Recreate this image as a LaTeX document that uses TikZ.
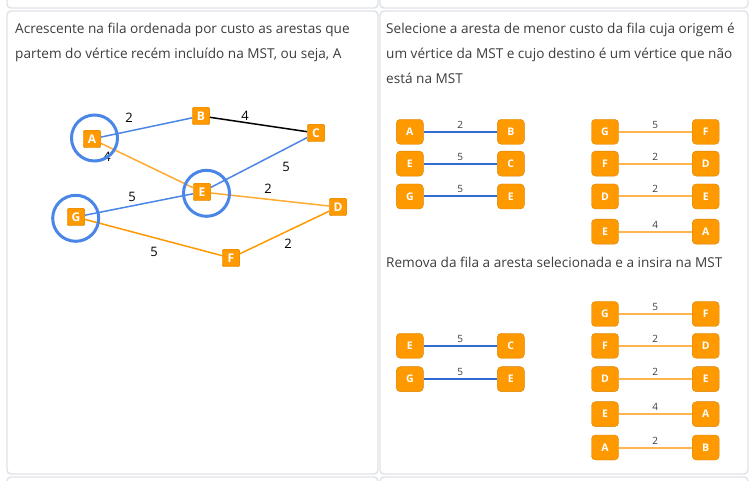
\documentclass[tikz,border=0pt]{standalone}
\usepackage{fontspec}
\setmainfont{Open Sans}

\definecolor{mstblue}{HTML}{4A86E8}
\definecolor{queueblue}{HTML}{2F6BD0}
\definecolor{vorange}{HTML}{FF9900}
\definecolor{edgeorange}{HTML}{FFAA33}
\definecolor{queueorange}{HTML}{FFB54D}
\definecolor{cellgray}{HTML}{DEE2E6}
\definecolor{textgray}{HTML}{3C3C3C}

\newcommand\crad{23}

\tikzset{
  cell/.style={draw=cellgray, line width=1.4pt, rounded corners=4pt},
  ptext/.style={anchor=north west, align=left, inner sep=0pt, text=textgray,
    font=\fontsize{13.6}{24.7}\selectfont},
  vbox/.style={draw=vorange!85!black, line width=0.4pt, fill=vorange, rounded corners=2pt,
    minimum size=17.5, inner sep=0pt, text=white, font=\bfseries\fontsize{12}{12}\selectfont},
  qbox/.style={draw=vorange!85!black, line width=0.4pt, fill=vorange, rounded corners=4pt,
    minimum width=27, minimum height=25, inner sep=0pt, text=white,
    font=\bfseries\fontsize{10.5}{10.5}\selectfont},
  elabel/.style={inner sep=0pt, font=\fontsize{13}{13}\selectfont},
  qlabel/.style={midway, above=2.5pt, inner sep=0pt, text=textgray, font=\fontsize{10}{10}\selectfont},
  qin/.style={draw=queueblue, line width=2pt},
  qout/.style={draw=queueorange, line width=2pt},
}

\begin{document}
\begin{tikzpicture}[x=1pt, y=-1pt]

% Variablen
\def\xa{409.8}
\def\xb{510.8}
\def\xc{605}
\def\xd{705.7}

\clip (0,0) rectangle (756,481);

% Zellen
\draw[cell] (7,-20) rectangle (378,8);
\draw[cell] (380,-20) rectangle (748,8);
\draw[cell] (7,11) rectangle (378,474);
\draw[cell] (380,11) rectangle (748,474);
\draw[cell] (7,477) rectangle (378,500);
\draw[cell] (380,477) rectangle (748,500);

% Texte
\draw (15,23) node[ptext] (TextAcrescente) {Acrescente na fila ordenada por custo as arestas que\\
partem do vértice recém incluído na MST, ou seja, A};
\draw (386,23) node[ptext] (TextSelecione) {Selecione a aresta de menor custo da fila cuja origem é\\
um vértice da MST e cujo destino é um vértice que não\\está na MST};
\draw (386,257) node[ptext] (TextRemova) {Remova da fila a aresta selecionada e a insira na MST};

% Graph
\draw (92,139) node[vbox] (A) {A};
\draw (201,116) node[vbox] (B) {B};
\draw (316,133) node[vbox] (C) {C};
\draw (338,207) node[vbox] (D) {D};
\draw (202,192) node[vbox] (E) {E};
\draw (231,258) node[vbox] (F) {F};
\draw (76,217) node[vbox] (G) {G};

\draw[mstblue, line width=1.5pt] (A) -- (B);
\draw[black, line width=1.5pt] (B) -- (C);
\draw[mstblue, line width=1.5pt] (E) -- (C);
\draw[mstblue, line width=1.5pt] (G) -- (E);
\draw[edgeorange, line width=1.5pt] (A) -- (E);
\draw[edgeorange, line width=1.5pt] (E) -- (D);
\draw[vorange, line width=1.5pt] (G) -- (F);
\draw[vorange, line width=1.5pt] (F) -- (D);

\draw (129,118) node[elabel] (LabelAB) {2};
\draw (245,116) node[elabel] (LabelBC) {4};
\draw (286,167) node[elabel] (LabelEC) {5};
\draw (107,157) node[elabel] (LabelAE) {4};
\draw (268,189) node[elabel] (LabelED) {2};
\draw (132,197) node[elabel] (LabelGE) {5};
\draw (154,252) node[elabel] (LabelGF) {5};
\draw (288,244) node[elabel] (LabelFD) {2};

% Kreise
\draw[mstblue, line width=3pt] (94.5,138) circle (\crad);
\draw[mstblue, line width=3pt] (206.5,193.3) circle (\crad);
\draw[mstblue, line width=3pt] (75.7,218.3) circle (\crad);

% Fila, Schritt 1
\draw (\xa,131.8) node[qbox] (SelA1) {A};
\draw (\xb,131.8) node[qbox] (SelB1) {B};
\draw[qin] (SelA1) -- node[qlabel] {2} (SelB1);
\draw (\xa,163.6) node[qbox] (SelA2) {E};
\draw (\xb,163.6) node[qbox] (SelB2) {C};
\draw[qin] (SelA2) -- node[qlabel] {5} (SelB2);
\draw (\xa,196.5) node[qbox] (SelA3) {G};
\draw (\xb,196.5) node[qbox] (SelB3) {E};
\draw[qin] (SelA3) -- node[qlabel] {5} (SelB3);

\draw (\xc,131.8) node[qbox] (SelC1) {G};
\draw (\xd,131.8) node[qbox] (SelD1) {F};
\draw[qout] (SelC1) -- node[qlabel] {5} (SelD1);
\draw (\xc,163.6) node[qbox] (SelC2) {F};
\draw (\xd,163.6) node[qbox] (SelD2) {D};
\draw[qout] (SelC2) -- node[qlabel] {2} (SelD2);
\draw (\xc,196.5) node[qbox] (SelC3) {D};
\draw (\xd,196.5) node[qbox] (SelD3) {E};
\draw[qout] (SelC3) -- node[qlabel] {2} (SelD3);
\draw (\xc,231.7) node[qbox] (SelC4) {E};
\draw (\xd,231.7) node[qbox] (SelD4) {A};
\draw[qout] (SelC4) -- node[qlabel] {4} (SelD4);

% Fila, Schritt 2
\draw (\xa,345.8) node[qbox] (RemA1) {E};
\draw (\xb,345.8) node[qbox] (RemB1) {C};
\draw[qin] (RemA1) -- node[qlabel] {5} (RemB1);
\draw (\xa,379.2) node[qbox] (RemA2) {G};
\draw (\xb,379.2) node[qbox] (RemB2) {E};
\draw[qin] (RemA2) -- node[qlabel] {5} (RemB2);

\draw (\xc,314) node[qbox] (RemC1) {G};
\draw (\xd,314) node[qbox] (RemD1) {F};
\draw[qout] (RemC1) -- node[qlabel] {5} (RemD1);
\draw (\xc,345.8) node[qbox] (RemC2) {F};
\draw (\xd,345.8) node[qbox] (RemD2) {D};
\draw[qout] (RemC2) -- node[qlabel] {2} (RemD2);
\draw (\xc,379.2) node[qbox] (RemC3) {D};
\draw (\xd,379.2) node[qbox] (RemD3) {E};
\draw[qout] (RemC3) -- node[qlabel] {2} (RemD3);
\draw (\xc,414.2) node[qbox] (RemC4) {E};
\draw (\xd,414.2) node[qbox] (RemD4) {A};
\draw[qout] (RemC4) -- node[qlabel] {4} (RemD4);
\draw (\xc,447.5) node[qbox] (RemC5) {A};
\draw (\xd,447.5) node[qbox] (RemD5) {B};
\draw[qout] (RemC5) -- node[qlabel] {2} (RemD5);

\end{tikzpicture}
\end{document}
